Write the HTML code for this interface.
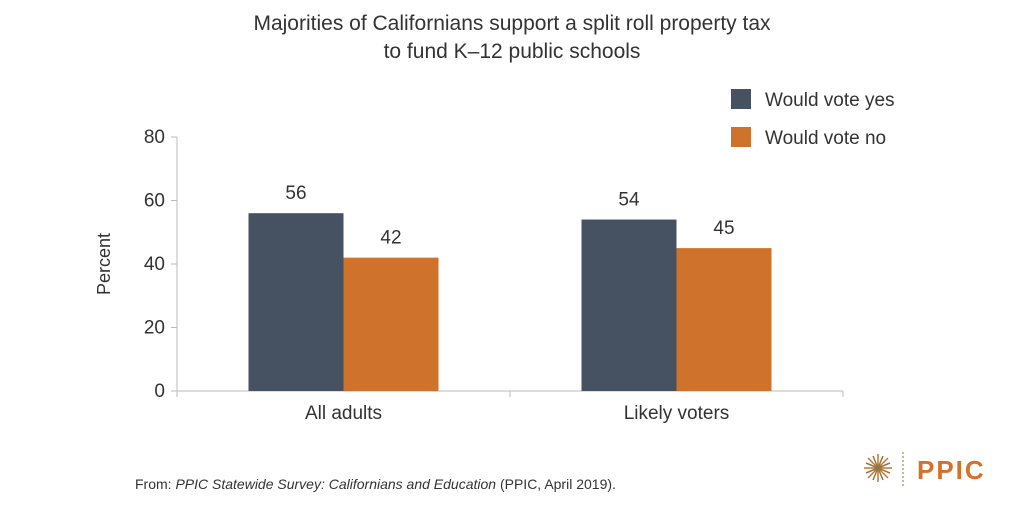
<!DOCTYPE html>
<html><head><meta charset="utf-8"><style>
body{margin:0;background:#fff;font-family:"Liberation Sans",sans-serif;}
svg text{font-family:"Liberation Sans",sans-serif;fill:#333;}
</style></head><body>
<svg width="1024" height="511">
<text x="512" y="30" text-anchor="middle" font-size="21">Majorities of Californians support a split roll property tax</text>
<text x="512" y="58" text-anchor="middle" font-size="21">to fund K–12 public schools</text>
<g>
<rect x="731" y="89" width="20" height="20" fill="#465162"/>
<text x="765" y="106" font-size="19">Would vote yes</text>
<rect x="731" y="127" width="20" height="20" fill="#cf722b"/>
<text x="765" y="144" font-size="19">Would vote no</text>
</g>
<text transform="translate(110,264) rotate(-90)" text-anchor="middle" font-size="18">Percent</text>
<g id="plot"></g>
<text x="135" y="489" font-size="14">From: <tspan font-style="italic">PPIC Statewide Survey: Californians and Education</tspan> (PPIC, April 2019).</text>
<g>
<g stroke="#cf722b" stroke-width="1.5" transform="translate(878,468)">
<line x1="-14" y1="0" x2="14" y2="0"/><line x1="0" y1="-14" x2="0" y2="14"/>
<line x1="-10" y1="-10" x2="10" y2="10"/><line x1="-10" y1="10" x2="10" y2="-10"/>
<line x1="-5" y1="-12" x2="5" y2="12" stroke="#8a7a4a"/><line x1="-12" y1="-5" x2="12" y2="5" stroke="#8a7a4a"/>
<line x1="5" y1="-12" x2="-5" y2="12" stroke="#8a7a4a"/><line x1="-12" y1="5" x2="12" y2="-5" stroke="#8a7a4a"/>
</g>
<line x1="903" y1="452" x2="903" y2="486" stroke="#8a7a4a" stroke-dasharray="2,2"/>
<text x="917" y="479" font-size="26" font-weight="bold" letter-spacing="2" style="fill:#d9702a">PPIC</text>
</g>
</svg>
<script>
const categories=["All adults","Likely voters"];
const yesValues=[56,54];
const noValues=[42,45];
const yTicks=[0,20,40,60,80];
const NS="http://www.w3.org/2000/svg";
const g=document.getElementById("plot");
const x0=177,x1=843,yB=391,yT=137,yMax=80;
const y=v=>yB-(yB-yT)*v/yMax;
const bw=(x1-x0)/categories.length;
function el(t,a){const e=document.createElementNS(NS,t);for(const k in a)e.setAttribute(k,a[k]);g.appendChild(e);return e;}
let ax=el("line",{x1:x0,y1:yT,x2:x0,y2:yB,stroke:"#bbb"});


let bx=el("line",{x1:x0-6,y1:yB,x2:x1,y2:yB,stroke:"#bbb"});


yTicks.forEach(t=>{
 let l=el("line",{x1:x0-6,y1:y(t),x2:x0,y2:y(t),stroke:"#bbb"});
 
 
 let tx=el("text",{x:x0-12,y:y(t)+6,"text-anchor":"end","font-size":19});
 tx.textContent=t;
 
 
});
for(let i=0;i<=categories.length;i++){
 let l=el("line",{x1:x0+i*bw,y1:yB,x2:x0+i*bw,y2:yB+6,stroke:"#bbb"});
 
 
}
const barW=95;
categories.forEach((c,i)=>{
 const cx=x0+bw*(i+0.5);
 [[yesValues[i],"#465162",cx-barW,'bar-yes'],[noValues[i],"#cf722b",cx,'bar-no']].forEach(([v,col,bx0,nm])=>{
  let r=el("rect",{x:bx0,y:y(v),width:barW,height:yB-y(v),fill:col});
  
  
  let t=el("text",{x:bx0+barW/2,y:y(v)-14,"text-anchor":"middle","font-size":19});
  t.textContent=v;
  
  
 });
 let t=el("text",{x:cx,y:yB+28,"text-anchor":"middle","font-size":19});
 t.textContent=c;
 
 
});
</script>
</body></html>
